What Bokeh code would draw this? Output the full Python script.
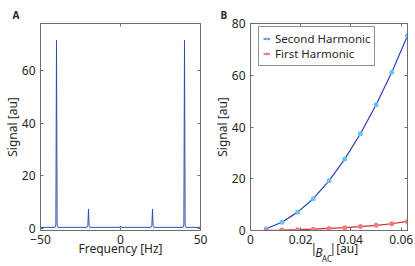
from bokeh.plotting import figure
from bokeh.models import (LinearAxis, FixedTicker, Range1d, Legend, LegendItem,
                          NumeralTickFormatter)
from bokeh.layouts import row
from bokeh.embed import file_html
from bokeh.resources import INLINE

# ---------------- data ----------------
# Panel A: spectrum
freq_hz = [-50, -41, -40.4, -40, -39.6, -39, -21, -20.4, -20, -19.6, -19,
           -1, -0.3, 0, 0.3, 1, 19, 19.6, 20, 20.4, 21,
           39, 39.6, 40, 40.4, 41, 50]
spectrum = [0.3, 0.3, 1.2, 71.5, 1.2, 0.3, 0.3, 0.9, 7.3, 0.9, 0.3,
            0.3, 0.4, 0.8, 0.4, 0.3, 0.3, 0.9, 7.3, 0.9, 0.3,
            0.3, 1.2, 71.5, 1.2, 0.3, 0.3]

# Panel B: harmonics vs |B_AC|
b_ac = [0.00625, 0.0125, 0.01875, 0.025, 0.03125, 0.0375, 0.04375, 0.05, 0.05625, 0.0625]
second_harmonic = [0.7, 3.2, 7.1, 12.3, 19.2, 27.6, 37.4, 48.6, 61.2, 75.3]
first_harmonic = [0.05, 0.15, 0.3, 0.5, 0.8, 1.1, 1.5, 2.0, 2.6, 3.5]

a_xticks = [-50, 0, 50]
a_yticks = [0, 20, 40, 60]
b_xticks = [0, 0.02, 0.04, 0.06]
b_yticks = [0, 20, 40, 60, 80]

FONT = "Noto Sans"
TXT = "#262626"
AXC = "#6e6e6e"
H = 266
TOP, BOTTOM = 23, 30


def style_axis(ax, ticks, show_labels=True):
    ax.ticker = FixedTicker(ticks=ticks)
    ax.axis_line_color = AXC
    ax.major_tick_line_color = AXC
    ax.major_tick_in = 3
    ax.major_tick_out = 0
    ax.minor_tick_line_color = None
    ax.major_label_text_font = FONT
    ax.major_label_text_color = TXT
    if show_labels:
        ax.major_label_text_font_size = "12px"
        ax.major_label_standoff = 4
    else:
        ax.major_label_text_font_size = "0px"
        ax.major_label_standoff = 0
    ax.axis_label_text_font = FONT
    ax.axis_label_text_font_size = "12px"
    ax.axis_label_text_font_style = "normal"
    ax.axis_label_text_color = TXT
    ax.axis_label_standoff = 0


def make_fig(xr, yr, w, left, right, panel, offset):
    p = figure(width=w, height=H, x_range=xr, y_range=yr,
               output_backend="svg", toolbar_location=None,
               min_border_left=left, min_border_right=right,
               min_border_top=TOP, min_border_bottom=BOTTOM)
    p.xgrid.visible = False
    p.ygrid.visible = False
    p.outline_line_color = AXC
    p.background_fill_color = "white"
    p.border_fill_color = "white"
    p.title.text = panel
    p.title.align = "left"
    p.title.offset = offset
    p.title.standoff = 4
    p.title.text_font = FONT
    p.title.text_font_size = "10px"
    p.title.text_font_style = "bold"
    p.title.text_color = TXT
    return p


# ---------------- panel A ----------------
pa = make_fig(Range1d(-50, 50), Range1d(-0.9, 77.9), 210, 34, 10, "A", -28)
pa.line(freq_hz, spectrum, line_color="#2f4fae", line_width=1)
style_axis(pa.xaxis[0], a_xticks)
style_axis(pa.yaxis[0], a_yticks)
pa.yaxis[0].major_label_standoff = 5
pa.xaxis[0].axis_label = "Frequency [Hz]"
pa.xaxis[0].axis_label_standoff = -7
pa.yaxis[0].axis_label = "Signal [au]"
pa.yaxis[0].axis_label_standoff = -2
ta = LinearAxis(); style_axis(ta, a_xticks, False); pa.add_layout(ta, "above")
ra = LinearAxis(); style_axis(ra, a_yticks, False); pa.add_layout(ra, "right")

# ---------------- panel B ----------------
FWB = 164
pb = make_fig(Range1d(0, 0.0625), Range1d(0, 80), 204, 33, 7, "B", -30)
pb.extra_x_ranges = {"px": Range1d(0, FWB)}
l2 = pb.line(b_ac, second_harmonic, line_color="#2541b5", line_width=1.2)
s2 = pb.scatter(b_ac, second_harmonic, size=5, fill_color="#68c3ef", line_color=None)
l1 = pb.line(b_ac, first_harmonic, line_color="#cf2e2e", line_width=1.2)
s1 = pb.scatter(b_ac, first_harmonic, size=5, fill_color="#f47c7c", line_color=None)
style_axis(pb.xaxis[0], b_xticks)
pb.xaxis[0].formatter = NumeralTickFormatter(format="0.[00]")
style_axis(pb.yaxis[0], b_yticks)
pb.yaxis[0].major_label_standoff = 5
pb.yaxis[0].axis_label = "Signal [au]"
pb.yaxis[0].axis_label_standoff = -2
tb = LinearAxis(); style_axis(tb, b_xticks, False); pb.add_layout(tb, "above")
rb = LinearAxis(); style_axis(rb, b_yticks, False); pb.add_layout(rb, "right")


# x-axis label |B_AC| [au]: pieces rendered as tick labels of label-only axes
def label_axis(pieces, size, style, standoff):
    ax = LinearAxis(x_range_name="px")
    ax.ticker = FixedTicker(ticks=[k for k, _ in pieces])
    ax.major_label_overrides = {k: t for k, t in pieces}
    ax.axis_line_color = None
    ax.major_tick_line_color = None
    ax.minor_tick_line_color = None
    ax.major_tick_in = 0
    ax.major_tick_out = 0
    ax.major_label_standoff = standoff
    ax.major_label_text_font = FONT
    ax.major_label_text_font_size = size
    ax.major_label_text_font_style = style
    ax.major_label_text_color = TXT
    pb.add_layout(ax, "below")


label_axis([(66, "|"), (86, "|"), (101, "[au]")], "12px", "normal", -7)
label_axis([(71.5, "B")], "12px", "italic", -16)
label_axis([(80, "AC")], "8px", "normal", -11)

legend = Legend(items=[LegendItem(label="Second Harmonic", renderers=[l2, s2]),
                       LegendItem(label="First Harmonic", renderers=[l1, s1])],
                location=(8, 164), margin=0, padding=4, spacing=0,
                glyph_width=7, glyph_height=15, label_height=15, label_standoff=5,
                label_text_font=FONT, label_text_font_size="11.5px",
                label_text_color=TXT, border_line_color="#262626",
                border_line_width=1, background_fill_alpha=1)
pb.add_layout(legend)

layout = row(pa, pb)
open("out.html", "w").write(file_html(layout, INLINE))
